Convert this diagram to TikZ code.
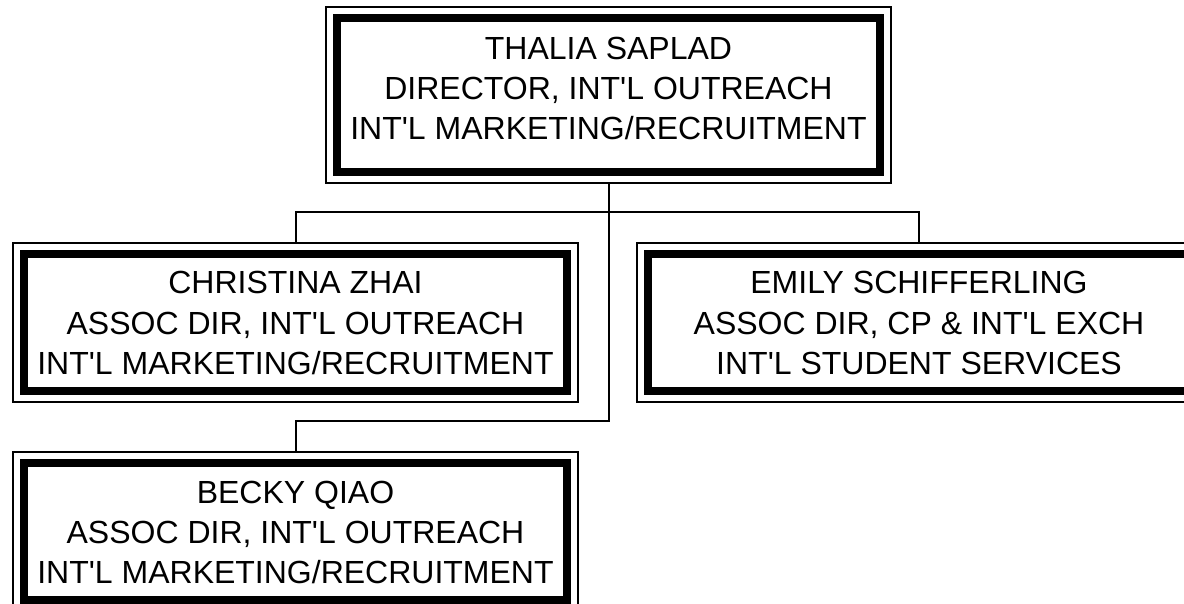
\documentclass[tikz,border=0pt]{standalone}
\usepackage{fontspec}
\setmainfont{Liberation Sans}
\usetikzlibrary{calc}

\tikzset{
  staff/.style={draw, line width=1pt, minimum width=282.5pt, minimum height=79.5pt,
    align=center, font=\fontsize{16}{20}\selectfont, text height=51.5pt, text depth=0pt},
  frame/.style={draw, line width=4pt},
  link/.style={draw, line width=1pt}
}

\begin{document}
\begin{tikzpicture}[x=0.5pt, y=-0.5pt]
  \useasboundingbox (0,0) rectangle (1184,604);

  % Director
  \node[staff, minimum height=88pt, text depth=6.5pt] (chief) at (608.5,95)
    {THALIA SAPLAD\\DIRECTOR, INT\textquotesingle L OUTREACH\\INT\textquotesingle L MARKETING/RECRUITMENT};

  % Associate directors
  \node[staff] (zhai) at (295.5,322.5)
    {CHRISTINA ZHAI\\ASSOC DIR, INT\textquotesingle L OUTREACH\\INT\textquotesingle L MARKETING/RECRUITMENT};
  \node[staff] (schiff) at (919,322.5)
    {EMILY SCHIFFERLING\\ASSOC DIR, CP \& INT\textquotesingle L EXCH\\INT\textquotesingle L STUDENT SERVICES};
  \node[staff] (qiao) at (295.5,531.5)
    {BECKY QIAO\\ASSOC DIR, INT\textquotesingle L OUTREACH\\INT\textquotesingle L MARKETING/RECRUITMENT};

  % Thick inner frames
  \foreach \n in {chief, zhai, schiff, qiao}
    \draw[frame] ([shift={(6pt,-6pt)}]\n.north west) rectangle ([shift={(-6pt,6pt)}]\n.south east);

  % Reporting lines
  \coordinate (bus) at (608.5,212);
  \coordinate (drop) at (608.5,421);
  \draw[link] (chief.south) -- (bus);
  \draw[link] (zhai.north) |- (bus) -| (schiff.north);
  \draw[link] (bus) -- (drop) -| (qiao.north);
\end{tikzpicture}
\end{document}
